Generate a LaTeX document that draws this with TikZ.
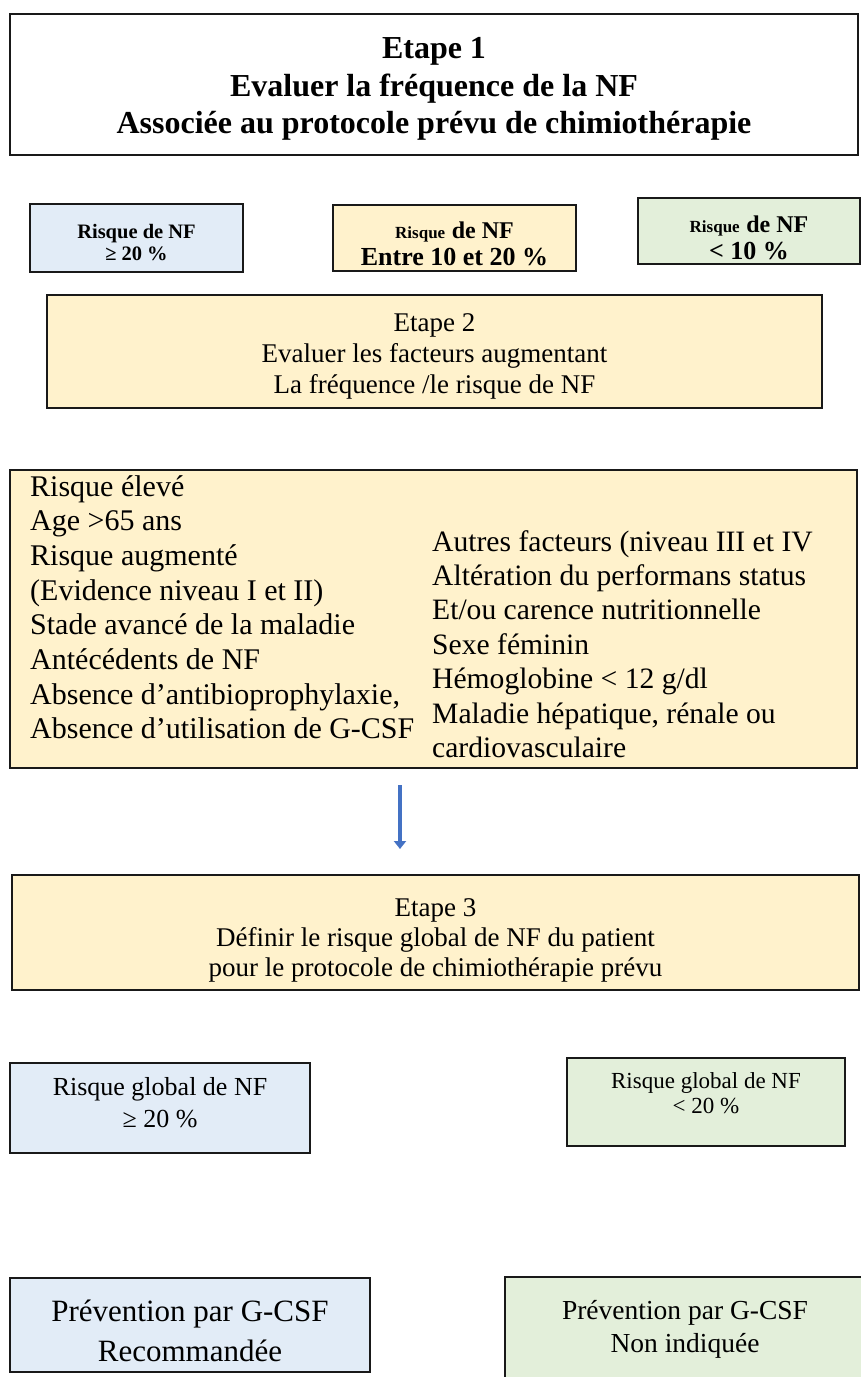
\documentclass[tikz,border=0pt]{standalone}
\usepackage{fontspec}
\setmainfont{Liberation Serif}
\usetikzlibrary{arrows.meta}
\newcommand\fsz[2]{\fontsize{#1}{#2}\selectfont}
\definecolor{paleblue}{HTML}{E2ECF7}
\definecolor{paleyellow}{HTML}{FFF2CC}
\definecolor{palegreen}{HTML}{E3EFDA}
\definecolor{arrowblue}{HTML}{4472C4}
\tikzset{
  box/.style={draw=black!90, line width=1.6pt, inner sep=0pt},
  bluebox/.style={box, fill=paleblue},
  yellowbox/.style={box, fill=paleyellow},
  greenbox/.style={box, fill=palegreen},
  txt/.style={inner sep=0pt, align=center},
  factline/.style={anchor=base west, inner sep=0pt, font=\fsz{30}{34}},
  flowarrow/.style={draw=arrowblue, line width=4.5pt, -{Triangle[width=12pt,length=8pt]}}
}
\begin{document}
\begin{tikzpicture}[x=1pt, y=-1pt]
\useasboundingbox (0,0) rectangle (860,1377);

% Step 1
\node[box, fill=white, minimum width=848pt, minimum height=141pt] (step1) at (434,84.5) {};
\node[txt, font=\bfseries\fsz{32}{37.5}] (step1text) at ([yshift=-4.5pt]step1.center)
  {Etape 1\\Evaluer la fréquence de la NF\\Associée au protocole prévu de chimiothérapie};

% Three risk classes
\node[bluebox, minimum width=213pt, minimum height=68pt] (riskhigh) at (136.5,238) {};
\node[txt, font=\bfseries\fsz{20.5}{22}] (riskhightext) at ([yshift=-5pt]riskhigh.center)
  {Risque de NF\\≥ 20 \%};
\node[yellowbox, minimum width=243pt, minimum height=66pt] (riskmid) at (454.5,238) {};
\node[txt, font=\bfseries\fsz{26}{27}] (riskmidtext) at ([yshift=-6pt]riskmid.center)
  {{\fsz{17}{20}Risque} {\fsz{24}{27}de NF}\\Entre 10 et 20 \%};
\node[greenbox, minimum width=222pt, minimum height=66pt] (risklow) at (749,231) {};
\node[txt, font=\bfseries\fsz{26}{27}] (risklowtext) at ([yshift=-7pt]risklow.center)
  {{\fsz{17}{20}Risque} {\fsz{24}{27}de NF}\\< 10 \%};

% Step 2
\node[yellowbox, minimum width=775pt, minimum height=113pt] (step2) at (434.5,351.5) {};
\node[txt, font=\fsz{27}{31}] (step2text) at ([yshift=-5pt]step2.center)
  {Etape 2\\Evaluer les facteurs augmentant\\La fréquence /le risque de NF};

% Risk factors
\node[yellowbox, minimum width=847pt, minimum height=298pt] (factors) at (433.5,619) {};
\foreach \t [count=\i] in {Risque élevé, Age >65 ans, Risque augmenté,
    (Evidence niveau I et II), Stade avancé de la maladie, Antécédents de NF,
    {Absence d’antibioprophylaxie,}, Absence d’utilisation de G-CSF}
  \node[factline] (left\i) at (30,{496+34.7*(\i-1)}) {\t};
\foreach \t [count=\i] in {Autres facteurs (niveau III et IV, Altération du performans status,
    Et/ou carence nutritionnelle, Sexe féminin, Hémoglobine < 12 g/dl,
    {Maladie hépatique, rénale ou}, cardiovasculaire}
  \node[factline, font=\fsz{29.6}{34}] (right\i) at (432,{551+34.4*(\i-1)}) {\t};

% Arrow towards step 3
\coordinate (arrowtop) at (400,785);
\coordinate (arrowtip) at (400,849);
\draw[flowarrow] (arrowtop) -- (arrowtip);

% Step 3
\node[yellowbox, minimum width=847pt, minimum height=115pt] (step3) at (435.5,932.5) {};
\node[txt, font=\fsz{27}{30}] (step3text) at ([yshift=-8pt]step3.center)
  {Etape 3\\Définir le risque global de NF du patient\\pour le protocole de chimiothérapie prévu};

% Overall risk
\node[bluebox, minimum width=300pt, minimum height=90pt] (globalhigh) at (160,1108) {};
\node[txt, font=\fsz{26}{32}] (globalhightext) at ([yshift=5pt]globalhigh.center)
  {Risque global de NF\\≥ 20 \%};
\node[greenbox, minimum width=278pt, minimum height=88pt] (globallow) at (706,1102) {};
\node[txt, font=\fsz{23}{25}] (globallowtext) at ([yshift=9pt]globallow.center)
  {Risque global de NF\\< 20 \%};

% Prevention
\node[bluebox, minimum width=360pt, minimum height=94pt] (prevyes) at (190,1325) {};
\node[txt, font=\fsz{31}{40}] (prevyestext) at ([yshift=-5.5pt]prevyes.center)
  {Prévention par G-CSF\\Recommandée};
\node[greenbox, minimum width=360pt, minimum height=108pt] (prevno) at (685,1331) {};
\node[txt, font=\fsz{27.5}{33}] (prevnotext) at ([yshift=2pt]prevno.center)
  {Prévention par G-CSF\\Non indiquée};
\end{tikzpicture}
\end{document}
